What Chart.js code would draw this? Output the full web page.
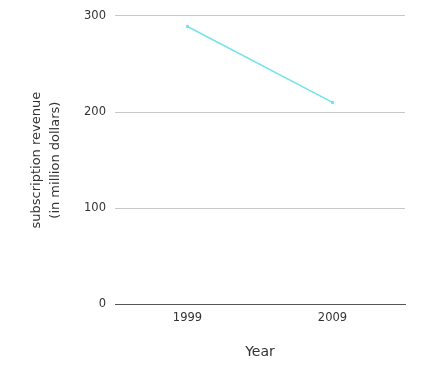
<!DOCTYPE html>
<html>
<head>
<meta charset="utf-8">
<script src="https://cdn.jsdelivr.net/npm/chart.js@4/dist/chart.umd.min.js"></script>
<style>
html,body{margin:0;padding:0;background:#fff;}
#wrap{width:436px;height:366px;position:relative;}
</style>
</head>
<body>
<div id="wrap"><canvas id="c" width="436" height="366"></canvas></div>
<script>
const categories = ['1999', '2009'];
const revenue = [289, 210];
const yTicks = [0, 100, 200, 300];
const yTitle = ['subscription revenue', '(in million dollars)'];
const xTitle = 'Year';

const FONT = 'DejaVu Sans';
new Chart(document.getElementById('c'), {
  type: 'line',
  data: {
    labels: categories,
    datasets: [{
      data: revenue,
      borderColor: '#74e3ea',
      backgroundColor: '#74e3ea',
      borderWidth: 1.5,
      pointRadius: 1,
      pointHoverRadius: 1,
      tension: 0
    }]
  },
  options: {
    responsive: false,
    animation: false,
    layout: { padding: { top: 14, right: 31, left: 28, bottom: 5 } },
    plugins: { legend: { display: false }, tooltip: { enabled: false } },
    scales: {
      x: {
        offset: true,
        grid: { display: false, drawTicks: false },
        border: { display: true, color: '#555555', width: 1 },
        ticks: { color: '#333333', font: { family: FONT, size: 11.5 }, padding: 7 },
        title: { display: true, text: xTitle, color: '#333333', font: { family: FONT, size: 14 }, padding: { top: 12, bottom: 0 } }
      },
      y: {
        min: 0, max: 300,
        afterBuildTicks: (s) => { s.ticks = yTicks.map(v => ({ value: v })); },
        afterFit: (s) => { s.width = 115 - 28; },
        grid: { color: '#c8c8c8', drawTicks: false, lineWidth: 1 },
        border: { display: false },
        ticks: { color: '#333333', font: { family: FONT, size: 11.5 }, padding: 9 },
        title: { display: true, text: yTitle, color: '#333333', font: { family: FONT, size: 13, lineHeight: 1.4 }, padding: 0 }
      }
    }
  }
});
</script>
</body>
</html>
